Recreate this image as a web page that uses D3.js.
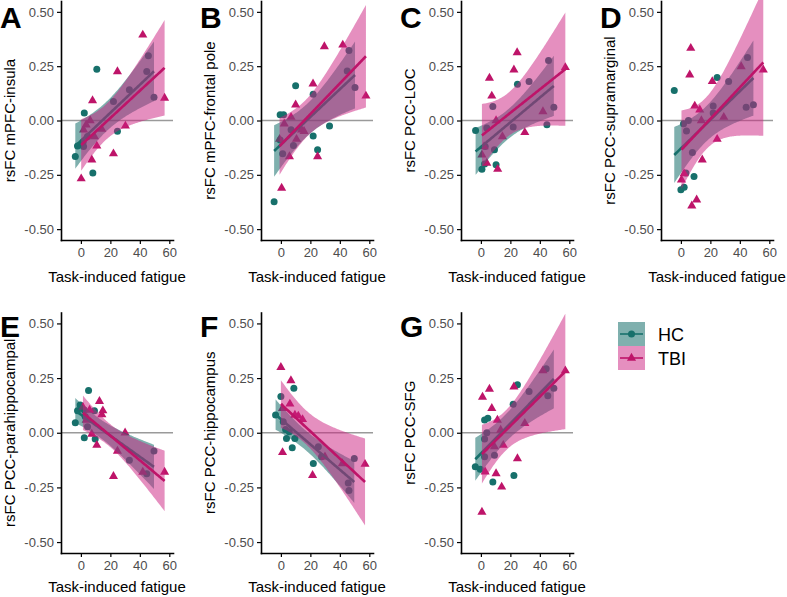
<!DOCTYPE html>
<html><head><meta charset="utf-8">
<script src="https://cdn.jsdelivr.net/npm/d3@7"></script>
<style>body{margin:0;background:#fff}svg{display:block}text{font-family:"Liberation Sans",Arial,sans-serif}</style>
</head><body><svg id="c" width="787" height="597"></svg>
<script>
const panelLetters = ["A","B","C","D","E","F","G"];
const yTitles = ["rsFC mPFC-insula","rsFC mPFC-frontal pole","rsFC PCC-LOC","rsFC PCC-supramarginal","rsFC PCC-parahippocampal","rsFC PCC-hippocampus","rsFC PCC-SFG"];
const xTitle = "Task-induced fatigue";
const xTicks = [0,20,40,60];
const yTicks = [-0.5,-0.25,0,0.25,0.5];
const groups = ["HC","TBI"];

// [fatigue, rsFC] pairs
const hcA = [[10.8,0.236],[2.3,0.034],[-3.8,-0.166],[-2.3,-0.117],[8.1,-0.242],[24.8,-0.05],[45.8,0.298],[44.7,0.225],[32.9,0.141],[22.1,0.087],[49.6,0.107],[1.8,-0.12],[4.5,-0.074],[1.5,-0.1]];
const tbiA = [[42,0.394],[24.8,0.225],[56.8,0.103],[7.9,0.092],[6.3,0.0],[1.8,-0.043],[10.8,-0.117],[7.4,-0.181],[0.2,-0.268],[22.1,-0.153],[30.2,-0.025],[14.2,-0.04],[3.6,-0.02],[9.2,-0.074]];
const hcB = [[-4.6,-0.374],[-0.5,0.026],[1.8,0.026],[10,0.16],[21.9,0.121],[21.9,-0.071],[24.9,-0.135],[33,-0.025],[46.2,0.322],[45,0.228],[50.3,0.152],[1.2,-0.153],[8.5,-0.115],[6.9,-0.043],[-0.5,-0.09]];
const tbiB = [[29.5,0.34],[42,0.348],[57.7,0.113],[21.8,0.169],[10,0.072],[6.9,0.015],[2.3,-0.015],[14,-0.043],[10.6,-0.086],[5.8,-0.166],[24.9,-0.166],[0.5,-0.311],[-0.9,-0.086],[15.7,-0.05]];
const hcC = [[-3.6,-0.046],[0.7,-0.224],[2.5,-0.2],[10.3,-0.204],[9.2,-0.135],[8.1,0.064],[24.8,0.167],[44.8,-0.02],[45.9,0.276],[32.7,0.18],[49.5,0.061],[21.9,-0.03],[4,-0.035],[2.9,-0.12]];
const tbiC = [[24.6,0.313],[22.4,0.233],[5.8,0.195],[7.4,0.113],[10.3,0.0],[14.6,-0.074],[11.4,-0.224],[4,-0.196],[0.7,-0.158],[29.8,-0.055],[42.1,0.041],[57.3,0.244],[2.2,-0.12]];
const hcD = [[-4.5,0.138],[24.6,0.198],[49.2,0.072],[44.3,0.061],[45.2,0.29],[32.4,0.18],[21.9,0.067],[21.9,0.034],[1.8,-0.015],[5.1,0.0],[3.8,-0.048],[7.8,-0.147],[8.9,-0.258],[0,-0.319],[2.2,-0.307],[3.4,-0.242]];
const tbiD = [[6.7,0.333],[6,0.21],[55.9,0.233],[40.9,0.248],[21.3,0.18],[9.4,0.067],[12.8,0.049],[13.9,0.0],[29.1,0.015],[24.6,-0.086],[14.5,-0.181],[0.4,-0.273],[7.4,-0.393],[10.7,-0.365],[2.2,-0.245]];
const hcE = [[-3.8,0.046],[5.2,0.193],[-0.5,0.127],[-2.3,0.101],[2.3,-0.023],[9.7,-0.029],[9.2,0.101],[4.5,0.028],[2.3,0.104],[49.6,-0.084],[32.9,-0.126],[44.7,-0.187],[2.9,0.074]];
const tbiE = [[12.6,0.144],[14.9,0.101],[14.2,0.083],[5.9,0.104],[7.4,-0.006],[10.8,-0.057],[30,0.0],[24.8,-0.084],[22.1,-0.199],[42,-0.18],[56.8,-0.18],[3.6,0.058],[1.4,0.117]];
const hcF = [[-3.6,0.081],[0,0.166],[8.8,0.204],[3.8,-0.026],[9.5,-0.026],[7.7,-0.069],[22,-0.141],[1.6,0.05],[3.2,0.015],[5.7,0.005],[49.8,-0.118],[45.7,-0.23],[46.2,-0.264],[25.4,-0.064],[27.6,-0.11]];
const tbiF = [[0,0.299],[6.8,0.239],[6.1,0.132],[1.1,0.112],[11.8,0.077],[14.7,0.061],[1.1,-0.09],[21.5,-0.195],[29.9,-0.11],[41.7,-0.141],[57.1,-0.144],[9.5,0.081]];
const hcG = [[-3.8,-0.156],[-0.4,-0.167],[2.5,0.058],[4.7,0.066],[24.8,0.219],[22.4,-0.195],[8.1,-0.225],[44.3,0.293],[45.4,0.169],[49.5,0.204],[32.7,0.189],[21.9,0.13],[4,0.0],[2.5,-0.029],[2.5,-0.11],[9.2,-0.103]];
const tbiG = [[0.7,-0.363],[1.1,0.163],[5.8,0.2],[7.4,0.112],[11.2,0.058],[13.4,0.012],[15.2,-0.057],[24.8,-0.118],[29.8,0.043],[42.1,0.284],[57.3,0.284],[2.9,-0.179],[10.3,-0.187],[14.1,-0.248],[9.2,-0.064],[22.4,0.21]];

const hcData = [hcA,hcB,hcC,hcD,hcE,hcF,hcG];
const tbiData = [tbiA,tbiB,tbiC,tbiD,tbiE,tbiF,tbiG];

const colors = {HC:"#17706b", TBI:"#be1469"};
const fills = {HC:"#16706b", TBI:"#cc1f80"};
const fillAlpha = {HC:0.55, TBI:0.5};

function tq(df){ const z=1.959964; return z + (z**3+z)/(4*df) + (5*z**5+16*z**3+3*z)/(96*df*df) + (3*z**7+19*z**5+17*z**3-15*z)/(384*df**3); }
function fit(data){
  const n=data.length, mx=d3.mean(data,d=>d[0]), my=d3.mean(data,d=>d[1]);
  const sxx=d3.sum(data,d=>(d[0]-mx)**2), sxy=d3.sum(data,d=>(d[0]-mx)*(d[1]-my));
  const b=sxy/sxx, a=my-b*mx;
  const s=Math.sqrt(d3.sum(data,d=>(d[1]-a-b*d[0])**2)/(n-2));
  const t=tq(n-2);
  const [lo,hi]=d3.extent(data,d=>d[0]);
  return d3.range(81).map(i=>{const xv=lo+(hi-lo)*i/80; const yh=a+b*xv; const se=s*Math.sqrt(1/n+(xv-mx)**2/sxx); return {x:xv,y:yh,lo:yh-t*se,hi:yh+t*se};});
}

const svg = d3.select("#c");
const rows = [{top:1,bottom:240,titleY:282,letterY:28},{top:312.5,bottom:553,titleY:592,letterY:337}];
const xDomain = [-13.5,62.5];
const fmt = d=>d.toFixed(2);

panelLetters.forEach((L,i)=>{
  const col=i%4, row=Math.floor(i/4);
  const x0=61+200*col, r=rows[row];
  const x=d3.scaleLinear().domain(xDomain).range([x0,x0+112]);
  const y=d3.scaleLinear().domain([-0.55,0.55]).range([r.bottom,r.top]);
  const g=svg.append("g");
  g.append("line").attr("x1",x0).attr("x2",x0+112).attr("y1",y(0)).attr("y2",y(0)).attr("stroke","#9a9a9a").attr("stroke-width",1.6);
  const hc=hcData[i], tbi=tbiData[i];
  g.selectAll("circle.hc").data(hc).join("circle").attr("cx",d=>x(d[0])).attr("cy",d=>y(d[1])).attr("r",3.5).attr("fill",colors.HC);
  g.selectAll("path.tbi").data(tbi).join("path").attr("transform",d=>`translate(${x(d[0])},${y(d[1])})`).attr("d",d3.symbol(d3.symbolTriangle).size(36)).attr("fill",colors.TBI);
  [["HC",hc],["TBI",tbi]].forEach(([grp,data])=>{
    const f=fit(data);
    g.append("path").datum(f).attr("d",d3.area().x(d=>x(d.x)).y0(d=>y(d.lo)).y1(d=>y(d.hi))).attr("fill",fills[grp]).attr("fill-opacity",fillAlpha[grp]);
    g.append("path").datum(f).attr("d",d3.line().x(d=>x(d.x)).y(d=>y(d.y))).attr("fill","none").attr("stroke",colors[grp]).attr("stroke-width",2.6);
  });
  const ya=g.append("g").attr("transform",`translate(${x0},0)`).call(d3.axisLeft(y).tickValues(yTicks).tickFormat(fmt).tickSize(4).tickSizeOuter(0).tickPadding(3));
  const xa=g.append("g").attr("transform",`translate(0,${r.bottom})`).call(d3.axisBottom(x).tickValues(xTicks).tickSize(4).tickSizeOuter(0).tickPadding(4));
  [ya,xa].forEach(a=>{a.select(".domain").attr("stroke","#000").attr("stroke-width",1.6).attr("stroke-linecap","square");a.selectAll(".tick line").attr("stroke","#000").attr("stroke-width",1.2);a.selectAll("text").attr("fill","#4d4d4d").style("font-size","13px").style("font-family","Liberation Sans, Arial, sans-serif");});
  g.append("text").attr("x",x0+56).attr("y",r.titleY).attr("text-anchor","middle").style("font-size","15px").attr("fill","#000").text(xTitle);
  g.append("text").attr("transform",`translate(${x0-46},${(r.top+r.bottom)/2}) rotate(-90)`).attr("text-anchor","middle").style("font-size","15px").attr("fill","#000").text(yTitles[i]);
  g.append("text").attr("x",200*col).attr("y",r.letterY).style("font-size","30px").style("font-weight","bold").attr("fill","#000").text(L);
});

// legend
const lg=svg.append("g");
groups.forEach((grp,k)=>{
  const ky=322+k*24;
  lg.append("rect").attr("x",618).attr("y",ky).attr("width",27).attr("height",24).attr("fill",fills[grp]).attr("fill-opacity",fillAlpha[grp]);
  lg.append("line").attr("x1",620).attr("x2",643).attr("y1",ky+12).attr("y2",ky+12).attr("stroke",colors[grp]).attr("stroke-width",1.6);
  if(grp==="HC") lg.append("circle").attr("cx",631.5).attr("cy",ky+12).attr("r",3.5).attr("fill",colors.HC);
  else lg.append("path").attr("transform",`translate(631.5,${ky+12})`).attr("d",d3.symbol(d3.symbolTriangle).size(36)).attr("fill",colors.TBI);
  lg.append("text").attr("x",658).attr("y",ky+18.5).style("font-size","18px").attr("fill","#000").text(grp);
});
</script></body></html>
